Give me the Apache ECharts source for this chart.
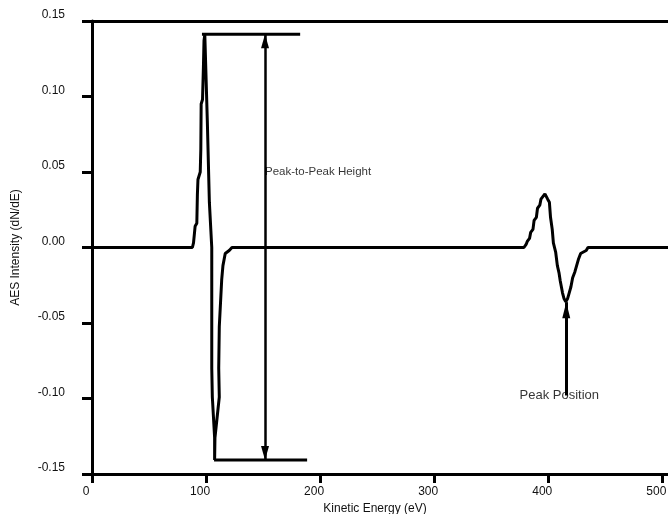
<!DOCTYPE html>
<html>
<head>
<meta charset="utf-8">
<script src="https://cdn.jsdelivr.net/npm/echarts@6/dist/echarts.min.js"></script>
<style>
html,body{margin:0;padding:0;background:#fff;}
#c{width:668px;height:514px;}
</style>
</head>
<body>
<div id="c"></div>
<script>
// Spectrum (kinetic energy in eV, dN/dE intensity)
const energy = [0, 88.0, 89.0, 89.9, 90.4, 91.9, 92.4, 92.9, 94.9, 95.4, 95.7, 96.9, 97.7, 98.2, 98.9,
  101.1, 102.9, 105.0, 105.0, 105.5, 107.5, 107.5, 107.8, 111.6, 111.1, 111.6, 113.7, 114.8, 116.8, 120.3, 122.7,
  378.7, 380.6, 381.6, 383.6, 384.6, 386.6, 387.6, 389.6, 390.6, 392.6, 393.6, 395.6, 397.1, 398.5, 399.5, 401.0, 402.0, 403.5, 404.5,
  406.5, 408.0, 409.5, 410.5, 412.5, 413.9, 415.4, 416.9, 418.4, 419.9, 421.4, 423.4, 424.9, 426.4, 428.4, 430.8, 433.3, 434.8, 505];
const intensity = [0, 0, 0.003, 0.010, 0.014, 0.016, 0.035, 0.045, 0.050, 0.065, 0.095, 0.098, 0.12, 0.137, 0.141,
  0.084, 0.03, 0.0, -0.08, -0.099, -0.126, -0.1407, -0.126, -0.099, -0.08, -0.0525, -0.0215, -0.012, -0.004, -0.002, 0,
  0, 0.002, 0.004, 0.006, 0.010, 0.012, 0.018, 0.020, 0.026, 0.028, 0.032, 0.034, 0.0355, 0.035, 0.032, 0.030, 0.020, 0.012, 0.003,
  -0.003, -0.012, -0.017, -0.022, -0.030, -0.034, -0.036, -0.034, -0.030, -0.026, -0.020, -0.016, -0.012, -0.008, -0.004, -0.003, -0.002, 0, 0];

// Axis ticks
const xTicks = [0, 100, 200, 300, 400, 500];
const yTicks = [-0.15, -0.10, -0.05, 0.00, 0.05, 0.10, 0.15];

// Annotations (data coordinates)
const topLineX = [96.4, 182.5];
const topLineY = 0.1412;
const bottomLineX = [107.0, 188.6];
const bottomLineY = -0.1407;
const p2pArrowX = 151.7;
const p2pLabelPos = [151.7, 0.05];
const p2pLabel = 'Peak-to-Peak Height';
const peakArrowX = 415.8;
const peakArrowY = [-0.098, -0.0362];
const peakLabel = 'Peak Position';

const FONT = 'Liberation Sans, Arial, Helvetica, sans-serif';
const chart = echarts.init(document.getElementById('c'), null, {renderer: 'canvas'});

const spectrum = energy.map((e, i) => [e, intensity[i]]);

chart.setOption({
  animation: false,
  backgroundColor: '#ffffff',
  grid: {left: 92, right: 0, top: 21, bottom: 40, containLabel: false, outerBoundsMode: 'none'},
  xAxis: [{
    type: 'value', min: 0, max: 505, interval: 100,
    name: 'Kinetic Energy (eV)', nameLocation: 'middle', nameGap: 26,
    nameTextStyle: {fontFamily: FONT, fontSize: 12, color: '#111', padding: [0, 10, 0, 0]},
    axisLine: {show: true, onZero: false, lineStyle: {color: '#000', width: 3}},
    axisTick: {show: true, length: 9, lineStyle: {color: '#000', width: 3}, customValues: xTicks},
    axisLabel: {fontFamily: FONT, fontSize: 12, color: '#111', margin: 12, customValues: xTicks,
      padding: [0, 12, 0, 0], formatter: v => String(v)},
    splitLine: {show: false}
  }, {
    type: 'value', position: 'top', min: 0, max: 505,
    axisLine: {show: true, onZero: false, lineStyle: {color: '#000', width: 3}},
    axisTick: {show: false}, axisLabel: {show: false}, splitLine: {show: false}
  }],
  yAxis: {
    type: 'value', min: -0.15, max: 0.15, interval: 0.05,
    name: 'AES Intensity (dN/dE)', nameLocation: 'middle', nameGap: 70, nameRotate: 90,
    nameTextStyle: {fontFamily: FONT, fontSize: 12, color: '#111'},
    axisLine: {show: true, onZero: false, lineStyle: {color: '#000', width: 3}},
    axisTick: {show: true, length: 10, lineStyle: {color: '#000', width: 3}},
    axisLabel: {fontFamily: FONT, fontSize: 12, color: '#111', margin: 27, verticalAlign: 'bottom',
      formatter: v => v.toFixed(2)},
    splitLine: {show: false}
  },
  series: [
    {
      type: 'line', data: spectrum, showSymbol: false, symbol: 'none', silent: true,
      lineStyle: {color: '#000', width: 3}, z: 5
    },
    {
      type: 'line', data: topLineX.map(x => [x, topLineY]), symbol: 'none', silent: true,
      lineStyle: {color: '#000', width: 3}, z: 4
    },
    {
      type: 'line', data: bottomLineX.map(x => [x, bottomLineY]), symbol: 'none', silent: true,
      lineStyle: {color: '#000', width: 3}, z: 4,
      markLine: {
        silent: true, animation: false,
        label: {show: false},
        lineStyle: {color: '#000', width: 2.5, type: 'solid'},
        symbol: ['triangle', 'triangle'], symbolSize: [8, 14],
        symbolOffset: [[0, 7], [0, 7]],
        data: [[{coord: [p2pArrowX, topLineY]}, {coord: [p2pArrowX, bottomLineY]}]]
      }
    },
    {
      type: 'line', data: [[peakArrowX, peakArrowY[0]], [peakArrowX, peakArrowY[0]]], symbol: 'none', silent: true,
      lineStyle: {width: 0}, z: 4,
      markLine: {
        silent: true, animation: false,
        label: {show: false},
        lineStyle: {color: '#000', width: 3, type: 'solid'},
        symbol: ['none', 'triangle'], symbolSize: [8, 16],
        symbolOffset: [[0, 0], [0, 8]],
        data: [[{coord: [peakArrowX, peakArrowY[0]]}, {coord: [peakArrowX, peakArrowY[1]]}]]
      }
    },
    {
      type: 'scatter', symbolSize: 0, silent: true, z: 10,
      data: [{value: p2pLabelPos, label: {show: true, formatter: p2pLabel, position: 'right', distance: 0,
              fontFamily: FONT, fontSize: 11.5, color: '#000'}},
             {value: [peakArrowX, peakArrowY[0]], label: {show: true, formatter: peakLabel, position: 'inside',
              offset: [-7, 0], fontFamily: FONT, fontSize: 13, color: '#000'}}]
    }
  ]
});
</script>
</body>
</html>
